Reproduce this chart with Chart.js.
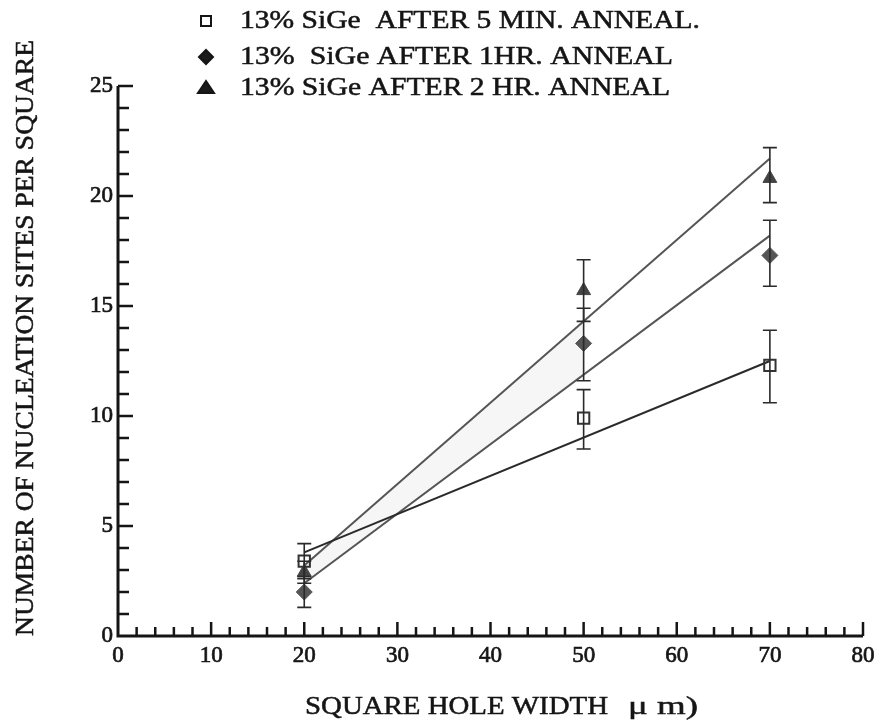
<!DOCTYPE html>
<html>
<head>
<meta charset="utf-8">
<script src="https://cdn.jsdelivr.net/npm/chart.js@4.4.0/dist/chart.umd.min.js"></script>
<style>
  html, body { margin: 0; background: #fff; }
  #wrap { width: 888px; height: 727px; }
</style>
</head>
<body>
<div id="wrap"><canvas id="chart"></canvas></div>
<script>
// values
const holeWidths = [20, 50, 70]
const seriesLabels = [
  '13% SiGe  AFTER 5 MIN. ANNEAL.',
  '13%  SiGe AFTER 1HR. ANNEAL',
  '13% SiGe AFTER 2 HR. ANNEAL',
]
const sites5min = [3.4, 9.9, 12.3]
const low5min = [2.6, 8.5, 10.6]
const high5min = [4.2, 11.2, 13.9]
const sites1hr = [2.0, 13.3, 17.3]
const low1hr = [1.3, 11.6, 15.9]
const high1hr = [2.7, 14.9, 18.9]
const sites2hr = [2.9, 15.7, 20.8]
const low2hr = [2.4, 14.3, 19.7]
const high2hr = [3.4, 17.1, 22.2]
// straight fits drawn through each series
const fitX = [20, 70]
const fit5min = [3.8, 12.5]
const fit1hr = [2.4, 18.2]
const fit2hr = [3.2, 21.7]
// light band between the 2 hr and 1 hr fits
const bandX = [20, 50]
const bandTop = [3.2, 14.3]
const bandBottom = [2.4, 11.9]
const xTicks = [0, 10, 20, 30, 40, 50, 60, 70, 80]
const yTicks = [0, 5, 10, 15, 20, 25]

const serif = "'Liberation Serif', 'DejaVu Serif', serif"
const ink = '#151515'

const pts = (xs, ys) => xs.map((x, i) => ({ x: x, y: ys[i] }))

const errorSets = [
  { low: low5min, high: high5min },
  { low: low1hr, high: high1hr },
  { low: low2hr, high: high2hr },
]

// text stretched to the width it has in the scan
function stretchedText(ctx, text, x, y, width) {
  const w = ctx.measureText(text).width
  ctx.save()
  ctx.translate(x, y)
  ctx.scale(width / w, 1)
  ctx.lineWidth = 0.5
  ctx.strokeStyle = ink
  ctx.fillText(text, 0, 0)
  ctx.strokeText(text, 0, 0)
  ctx.restore()
}

const decor = {
  id: 'decor',
  afterDatasetsDraw(chart) {
    const { ctx, scales: { x, y } } = chart
    ctx.save()
    ctx.strokeStyle = '#2a2a2a'
    ctx.lineWidth = 1.6
    errorSets.forEach((e) => {
      holeWidths.forEach((w, i) => {
        const px = x.getPixelForValue(w)
        const top = y.getPixelForValue(e.high[i])
        const bot = y.getPixelForValue(e.low[i])
        ctx.beginPath()
        ctx.moveTo(px, top)
        ctx.lineTo(px, bot)
        ctx.moveTo(px - 7, top)
        ctx.lineTo(px + 7, top)
        ctx.moveTo(px - 7, bot)
        ctx.lineTo(px + 7, bot)
        ctx.stroke()
      })
    })
    ctx.restore()
  },
  afterDraw(chart) {
    const { ctx, chartArea: a, scales: { x, y } } = chart
    ctx.save()
    // axes with inward ticks
    ctx.strokeStyle = ink
    ctx.lineWidth = 3
    ctx.beginPath()
    ctx.moveTo(a.left, a.top)
    ctx.lineTo(a.left, a.bottom)
    ctx.lineTo(a.right, a.bottom)
    ctx.stroke()
    ctx.lineWidth = 2.5
    ctx.beginPath()
    for (let v = 1; v <= 25; v++) {
      const py = y.getPixelForValue(v)
      const len = v % 5 === 0 ? 15 : 11
      ctx.moveTo(a.left, py)
      ctx.lineTo(a.left + len, py)
    }
    for (let v = 2; v <= 80; v += 2) {
      const px = x.getPixelForValue(v)
      const len = v % 10 === 0 ? 14 : 9
      ctx.moveTo(px, a.bottom)
      ctx.lineTo(px, a.bottom - len)
    }
    ctx.stroke()

    // axis titles
    ctx.fillStyle = ink
    ctx.font = '26px ' + serif
    ctx.textAlign = 'left'
    ctx.textBaseline = 'middle'
    stretchedText(ctx, 'SQUARE HOLE WIDTH', 305, 707, 303)
    stretchedText(ctx, '\u03bc m)', 628, 707, 70)
    ctx.save()
    ctx.translate(26, 636)
    ctx.rotate(-Math.PI / 2)
    stretchedText(ctx, 'NUMBER OF NUCLEATION SITES PER SQUARE', 0, 0, 596)
    ctx.restore()

    // legend
    const rows = [21, 57, 88]
    const rowWidths = [460, 433, 430]
    ctx.font = '25px ' + serif
    rows.forEach((ry, i) => {
      ctx.fillStyle = ink
      stretchedText(ctx, seriesLabels[i], 240, ry, rowWidths[i])
      ctx.lineWidth = 2
      ctx.strokeStyle = ink
      ctx.fillStyle = i === 0 ? '#fff' : '#1a1a1a'
      ctx.beginPath()
      if (i === 0) {
        ctx.rect(201, ry - 5, 10, 10)
      } else if (i === 1) {
        ctx.moveTo(206, ry - 7)
        ctx.lineTo(213, ry)
        ctx.lineTo(206, ry + 7)
        ctx.lineTo(199, ry)
        ctx.closePath()
      } else {
        ctx.moveTo(206, ry - 7)
        ctx.lineTo(214, ry + 5)
        ctx.lineTo(198, ry + 5)
        ctx.closePath()
      }
      ctx.fill()
      ctx.stroke()
    })
    ctx.restore()
  },
}

const fitLine = (data, color) => ({
  type: 'line',
  data: data,
  borderColor: color,
  borderWidth: 2,
  pointRadius: 0,
  fill: false,
})

const tickStyle = {
  color: ink,
  font: { family: serif, size: 23 },
  textStrokeColor: ink,
  textStrokeWidth: 0.7,
}

new Chart(document.getElementById('chart'), {
  type: 'scatter',
  data: {
    datasets: [
      {
        label: seriesLabels[0],
        data: pts(holeWidths, sites5min),
        pointStyle: 'rect',
        pointRadius: 8,
        backgroundColor: 'rgba(255,255,255,0)',
        borderColor: '#333',
        borderWidth: 2,
      },
      {
        label: seriesLabels[1],
        data: pts(holeWidths, sites1hr),
        pointStyle: 'rectRot',
        pointRadius: 8,
        backgroundColor: '#555',
        borderColor: '#555',
      },
      {
        label: seriesLabels[2],
        data: pts(holeWidths, sites2hr),
        pointStyle: 'triangle',
        pointRadius: 8,
        backgroundColor: '#444',
        borderColor: '#444',
      },
      fitLine(pts(fitX, fit5min), '#2a2a2a'),
      fitLine(pts(fitX, fit1hr), '#555'),
      fitLine(pts(fitX, fit2hr), '#555'),
      {
        type: 'line',
        data: pts(bandX, bandTop),
        borderWidth: 0,
        pointRadius: 0,
        fill: false,
      },
      {
        type: 'line',
        data: pts(bandX, bandBottom),
        borderWidth: 0,
        pointRadius: 0,
        backgroundColor: 'rgba(0,0,0,0.035)',
        fill: '-1',
      },
    ],
  },
  options: {
    responsive: true,
    maintainAspectRatio: false,
    animation: false,
    layout: { padding: { top: 86, right: 25, left: 0, bottom: 0 } },
    plugins: {
      legend: { display: false },
      tooltip: { enabled: false },
    },
    scales: {
      x: {
        type: 'linear',
        min: 0,
        max: 80,
        afterBuildTicks: (s) => { s.ticks = xTicks.map((v) => ({ value: v })) },
        afterFit: (s) => { s.height = 91 },
        grid: { display: false, drawTicks: false },
        border: { display: false },
        ticks: { ...tickStyle, padding: 6 },
      },
      y: {
        type: 'linear',
        min: 0,
        max: 25,
        afterBuildTicks: (s) => { s.ticks = yTicks.map((v) => ({ value: v })) },
        afterFit: (s) => { s.width = 118 },
        grid: { display: false, drawTicks: false },
        border: { display: false },
        ticks: { ...tickStyle, padding: 5 },
      },
    },
  },
  plugins: [decor],
})
</script>
</body>
</html>
